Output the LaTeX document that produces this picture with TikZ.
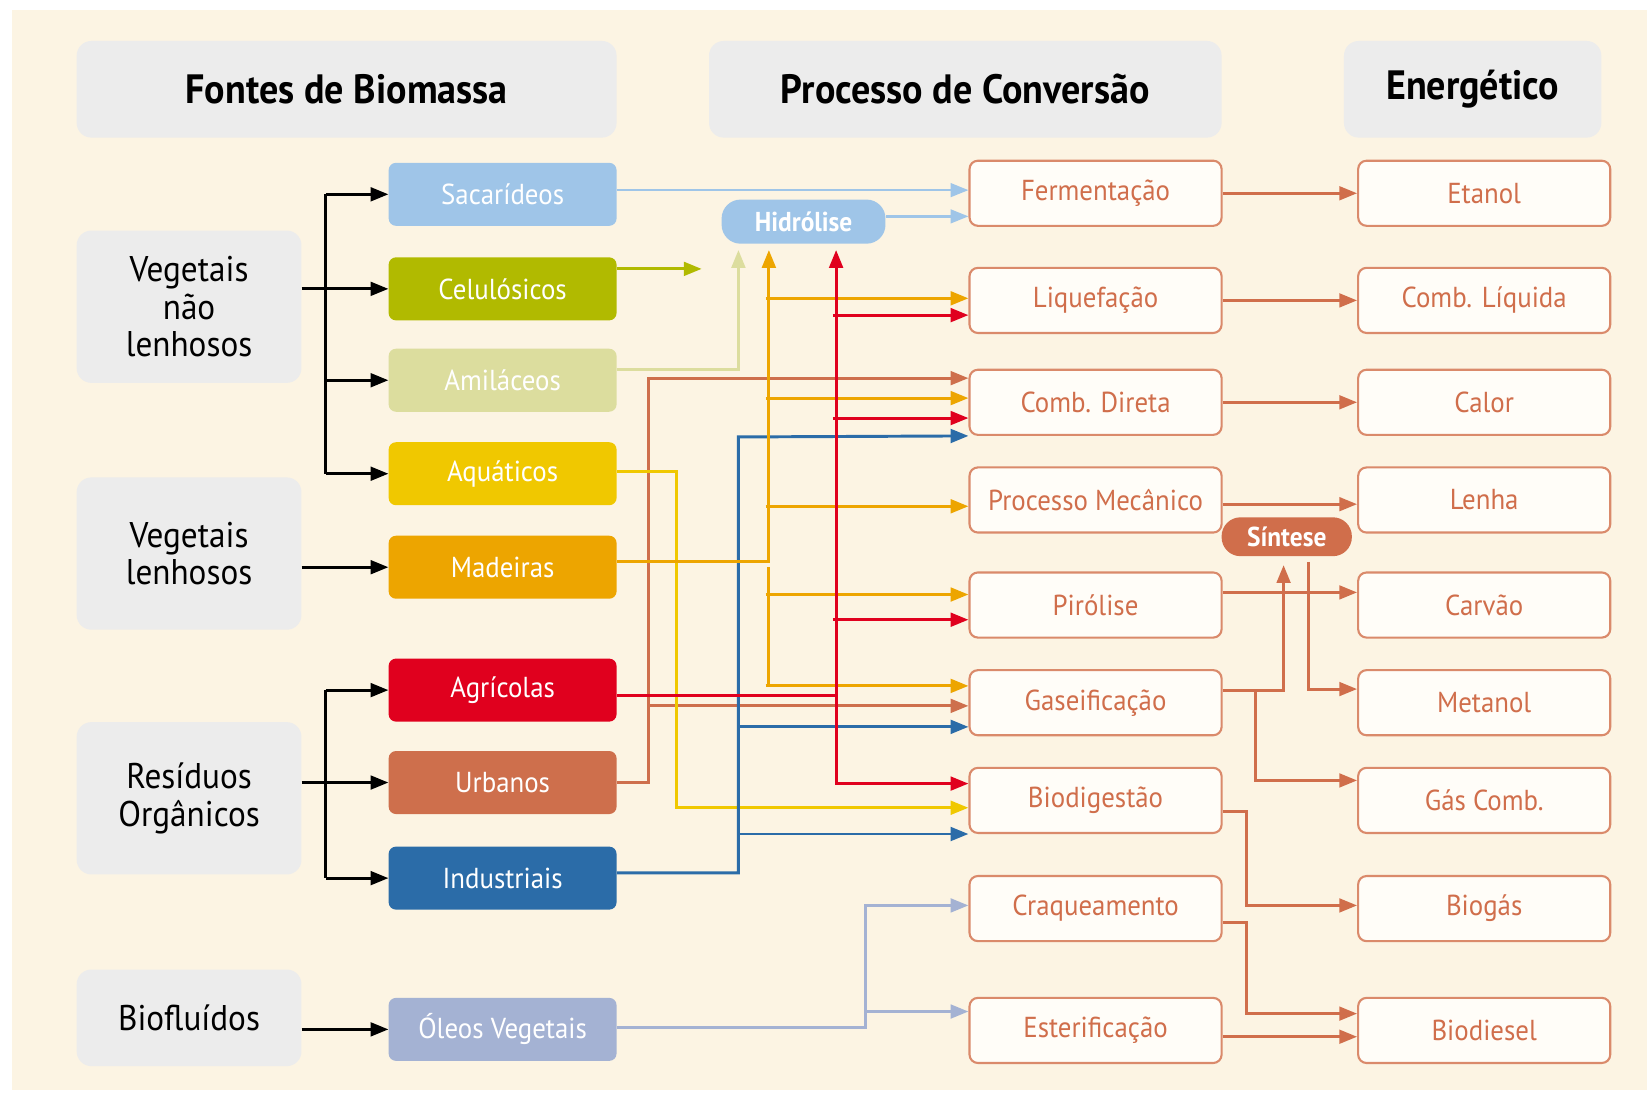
\documentclass[tikz,border=0pt]{standalone}
\usepackage{fontspec}
\setmainfont[FakeStretch=0.93]{PT Sans}
\usetikzlibrary{arrows.meta}
\definecolor{creme}{HTML}{FCF4E3}
\definecolor{cinza}{HTML}{ECECEC}
\definecolor{terra}{HTML}{D06E4B}
\definecolor{borda}{HTML}{DA8A6B}
\definecolor{branco}{HTML}{FFFDF8}
\definecolor{azulclaro}{HTML}{9FC5E8}
\definecolor{oliva}{HTML}{B1BA00}
\definecolor{palha}{HTML}{DCDD9E}
\definecolor{amarelo}{HTML}{F0C800}
\definecolor{laranja}{HTML}{EDA500}
\definecolor{vermelho}{HTML}{E0001E}
\definecolor{urbano}{HTML}{CE6F4C}
\definecolor{azul}{HTML}{2B6CA8}
\definecolor{lavanda}{HTML}{A4B2D3}
\tikzset{
  titulo/.style={fill=cinza,rounded corners=14pt,minimum height=92pt,inner sep=0pt,font=\bfseries\fontsize{39}{42}\selectfont},
  grupo/.style={fill=cinza,rounded corners=14pt,minimum width=214pt,inner sep=0pt,align=center,font=\fontsize{34}{36}\selectfont},
  fonte/.style={fill=#1,rounded corners=7pt,minimum width=217pt,minimum height=60pt,inner sep=0pt,text=white,font=\fontsize{27.5}{29}\selectfont},
  processo/.style={draw=borda,line width=2pt,fill=branco,rounded corners=8pt,minimum width=240pt,minimum height=62pt,inner sep=0pt,text=terra,font=\fontsize{27.5}{29}\selectfont},
  pilula/.style={fill=#1,rounded corners=18pt,inner sep=0pt,text=white,font=\bfseries\fontsize{26}{28}\selectfont},
  seta/.style={draw=#1,line width=2.8pt,-{Triangle[length=17pt,width=13pt]}},
  linha/.style={draw=#1,line width=2.8pt},
}

\begin{document}
\begin{tikzpicture}[x=1pt,y=-1pt]
\useasboundingbox (0,0) rectangle (1568,1043);
\fill[creme] (11,9.5) rectangle (1568,1038);

\node[titulo,minimum width=514pt] (tFontes) at (330,85) {Fontes de Biomassa};
\node[titulo,minimum width=488pt] (tProc) at (919,85) {Processo de Conversão};
\node[titulo,minimum width=245pt] (tEnerg) at (1402,85) {Energético};

\node[grupo,minimum height=145pt] (gNaoLen) at (180,292) {Vegetais\\não\\lenhosos};
\node[grupo,minimum height=145pt] (gLen) at (180,527) {Vegetais\\lenhosos};
\node[grupo,minimum height=145pt] (gRes) at (180,760) {Resíduos\\Orgânicos};
\node[grupo,minimum height=92pt] (gBio) at (180,969) {Biofluídos};

\node[fonte=azulclaro] (sac) at (478.5,185) {Sacarídeos};
\node[fonte=oliva] (cel) at (478.5,275) {Celulósicos};
\node[fonte=palha] (ami) at (478.5,362) {Amiláceos};
\node[fonte=amarelo] (aqu) at (478.5,451) {Aquáticos};
\node[fonte=laranja] (mad) at (478.5,540) {Madeiras};
\node[fonte=vermelho] (agr) at (478.5,657) {Agrícolas};
\node[fonte=urbano] (urb) at (478.5,745) {Urbanos};
\node[fonte=azul] (ind) at (478.5,836) {Industriais};
\node[fonte=lavanda] (ole) at (478.5,980) {Óleos Vegetais};

\node[processo] (fer) at (1043,184) {Fermentação};
\node[processo] (liq) at (1043,286) {Liquefação};
\node[processo] (cdi) at (1043,383) {Comb. Direta};
\node[processo] (pme) at (1043,476) {Processo Mecânico};
\node[processo] (pir) at (1043,576) {Pirólise};
\node[processo] (gas) at (1043,669) {Gaseificação};
\node[processo] (bdg) at (1043,762) {Biodigestão};
\node[processo] (cra) at (1043,865) {Craqueamento};
\node[processo] (est) at (1043,981) {Esterificação};

\node[processo] (eta) at (1413,184) {Etanol};
\node[processo] (cli) at (1413,286) {Comb. Líquida};
\node[processo] (cal) at (1413,383) {Calor};
\node[processo] (len) at (1413,476) {Lenha};
\node[processo] (car) at (1413,576) {Carvão};
\node[processo] (met) at (1413,669) {Metanol};
\node[processo] (gcb) at (1413,762) {Gás Comb.};
\node[processo] (bgs) at (1413,865) {Biogás};
\node[processo] (bds) at (1413,981) {Biodiesel};

\node[pilula=azulclaro,minimum width=156pt,minimum height=42pt] (hid) at (765,211) {Hidrólise};
\node[pilula=terra,minimum width=124pt,minimum height=37pt] (sin) at (1225,511) {Síntese};

\coordinate (bus1) at (310,185);
\coordinate (bus2) at (310,657);
\coordinate (celFim) at (668,256);
\coordinate (pAmi) at (703,238);
\coordinate (pLar) at (732,238);
\coordinate (pVer) at (796,238);
\coordinate (xUrb) at (617,360);
\coordinate (xInd) at (703,416);
\coordinate (xAqu) at (644,769);
\coordinate (xOle) at (824,862);
\coordinate (sinA) at (1222,538);
\coordinate (sinB) at (1246,535);
\coordinate (xGas) at (1195,657);
\coordinate (xBdg) at (1187,862);
\coordinate (xCra) at (1187,965);

% fontes
\draw[linha=black] (bus1) -- (bus1 |- aqu.west);
\draw[linha=black] (gNaoLen.east |- cel.west) -- (bus1 |- cel.west);
\foreach \n in {sac,cel,ami,aqu}
  \draw[seta=black] (bus1 |- \n.west) -- (\n.west);
\draw[seta=black] (gLen.east |- mad.west) -- (mad.west);
\draw[linha=black] (bus2) -- (bus2 |- ind.west);
\draw[linha=black] (gRes.east |- urb.west) -- (bus2 |- urb.west);
\foreach \n in {agr,urb,ind}
  \draw[seta=black] (bus2 |- \n.west) -- (\n.west);
\draw[seta=black] (gBio.east |- ole.west) -- (ole.west);

% conversao
\draw[seta=azulclaro,line width=2.2pt] ([yshift=4pt]sac.east) -- ([yshift=4pt]sac.east -| fer.west);
\draw[seta=azulclaro,line width=2.2pt] ([yshift=5pt]hid.east) -- ([yshift=5pt]hid.east -| fer.west);
\draw[seta=oliva] (cel.east |- celFim) -- (celFim);
\draw[seta=palha] ([yshift=10pt]ami.east) -| (pAmi);
\draw[seta=urbano] (urb.east) -| (xUrb) -- ([yshift=23pt]cdi.west);
\draw[seta=urbano] ([yshift=-3pt]gas.west -| xUrb) -- ([yshift=-3pt]gas.west);
\draw[seta=amarelo] ([yshift=2pt]aqu.east) -| (xAqu) -- ([yshift=-7pt]bdg.west);
\draw[seta=azul] ([yshift=5pt]ind.east) -| (xInd) -- ([yshift=-32pt]cdi.west);
\foreach \n/\d in {gas/-23,bdg/-32}
  \draw[seta=azul] ([yshift=\d pt]\n.west -| xInd) -- ([yshift=\d pt]\n.west);
\draw[seta=laranja] ([yshift=5pt]mad.east) -| (pLar);
\draw[linha=laranja] (pLar |- mad.east) -- ([yshift=16pt]gas.west -| pLar);
\foreach \n/\d in {liq/2,cdi/4,pme/-6,pir/10,gas/16}
  \draw[seta=laranja] ([yshift=\d pt,xshift=-3pt]\n.west -| pLar) -- ([yshift=\d pt]\n.west);
\draw[seta=vermelho] ([yshift=-5pt]agr.east) -| (pVer);
\draw[seta=vermelho] ([yshift=-5pt]agr.east -| pVer) |- ([yshift=16pt]bdg.west);
\foreach \n/\d in {liq/-14,cdi/-15,pir/-14}
  \draw[seta=vermelho] ([yshift=\d pt,xshift=-3pt]\n.west -| pVer) -- ([yshift=\d pt]\n.west);
\draw[seta=lavanda] ([yshift=2pt]ole.east) -| (xOle) -- ([yshift=3pt]cra.west);
\draw[seta=lavanda] ([yshift=18pt]est.west -| xOle) -- ([yshift=18pt]est.west);

% energetico
\foreach \a/\b in {fer/eta,liq/cli,cdi/cal}
  \draw[seta=terra] (\a.east) -- (\b.west);
\draw[seta=terra] ([yshift=-4pt]pme.east) -- ([yshift=-4pt]len.west);
\draw[seta=terra] ([yshift=12pt]pir.east) -- ([yshift=12pt]car.west);
\draw[seta=terra] ([yshift=12pt]gas.east) -| (sinA);
\draw[seta=terra] (xGas) |- ([yshift=19pt]gcb.west);
\draw[seta=terra] (sinB) |- ([yshift=13pt]met.west);
\draw[seta=terra] ([yshift=-11pt]bdg.east) -| (xBdg) -- ([yshift=3pt]bgs.west);
\draw[seta=terra] ([yshift=-13pt]cra.east) -| (xCra) -- ([yshift=16pt]bds.west);
\draw[seta=terra] ([yshift=-6pt]est.east) -- ([yshift=-6pt]bds.west);
\end{tikzpicture}
\end{document}
